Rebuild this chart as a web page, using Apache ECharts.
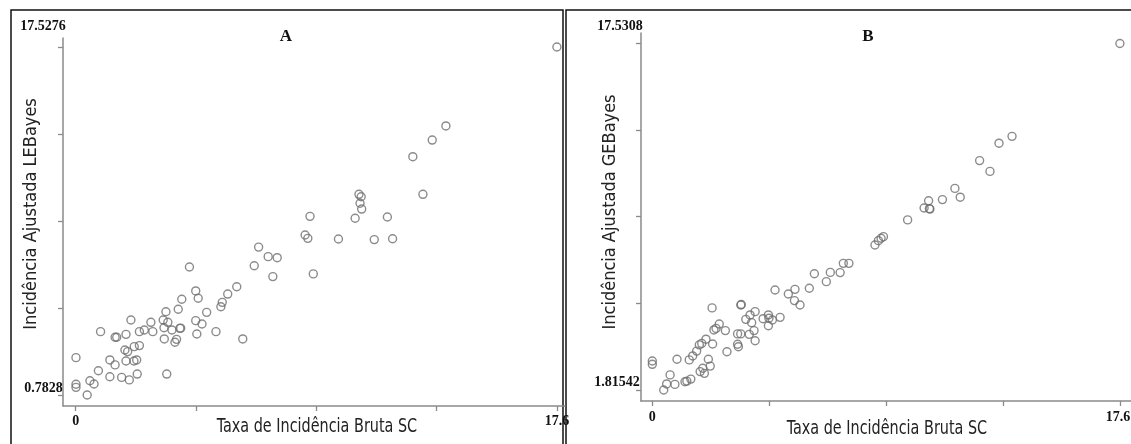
<!DOCTYPE html>
<html><head><meta charset="utf-8">
<script src="https://cdn.jsdelivr.net/npm/echarts@6/dist/echarts.min.js"></script>
<style>html,body{margin:0;padding:0;background:#fff}#c{width:1131px;height:444px}</style>
</head><body><div id="c"></div>
<script>
// Panel A: raw rate (x) vs LEBayes adjusted (y)
const aX = [0.01,0.01,0.01,0.42,0.52,0.67,0.83,0.91,1.25,1.25,1.44,1.44,1.50,1.68,1.84,1.80,1.90,1.84,1.96,2.02,2.13,2.14,2.23,2.25,2.33,2.33,2.51,2.75,2.82,3.20,3.23,3.24,3.30,3.37,3.33,3.52,3.63,3.69,3.75,3.81,3.84,3.88,4.39,4.48,4.39,4.43,4.62,4.79,5.13,5.31,5.36,5.56,5.89,6.11,7.21,4.16,6.53,6.69,7.04,7.37,12.33,12.70,10.36,10.44,10.40,10.46,10.22,11.40,8.57,8.39,8.49,9.61,10.92,11.59,8.69,17.6,13.54,13.04];
const aY = [2.58,1.30,1.15,0.7828,1.47,1.31,1.95,3.83,2.47,1.66,2.23,3.56,3.56,1.63,3.70,2.95,2.87,2.42,1.51,4.39,2.42,3.11,2.47,1.79,3.83,3.16,3.91,4.28,3.83,4.39,4.02,3.48,4.79,4.28,1.79,3.91,3.32,3.46,4.91,3.99,4.00,5.39,5.79,5.44,4.36,3.72,4.20,4.76,3.83,5.03,5.24,5.64,5.99,3.48,6.48,6.94,7.00,7.90,7.44,7.39,12.25,10.44,10.44,10.32,10.01,9.73,9.29,9.35,9.38,8.48,8.32,8.29,8.26,8.30,6.61,17.5276,13.73,13.05];
// Panel B: raw rate (x) vs GEBayes adjusted (y)
const bX = [0,0,0.43,0.54,0.67,0.85,0.93,1.23,1.30,1.45,1.39,1.52,1.67,1.77,1.86,1.80,1.90,1.96,2.02,2.11,2.18,2.25,2.27,2.32,2.40,2.52,2.75,2.81,3.21,3.21,3.24,3.33,3.33,3.35,3.52,3.68,3.65,3.74,3.83,3.87,3.87,4.17,4.37,4.39,4.37,4.52,4.81,4.62,5.12,5.37,5.35,5.56,5.91,6.55,6.10,6.70,7.07,7.19,7.40,8.38,8.51,8.61,8.70,9.61,10.23,10.40,10.43,10.45,10.92,11.39,11.59,12.32,12.71,13.54,13.05,17.6];
const bY = [3.13,2.98,1.81542,2.09,2.50,2.07,3.21,2.19,2.22,2.31,3.18,3.36,3.58,3.86,3.93,2.65,2.80,2.57,4.12,3.21,2.90,5.54,3.90,4.54,4.61,4.81,4.51,3.55,4.36,3.89,3.78,4.36,5.67,5.69,5.02,5.22,4.34,4.87,4.51,5.37,4.05,5.05,5.22,5.07,4.73,4.99,5.11,6.35,6.17,6.38,5.87,5.67,6.43,6.73,7.09,7.15,7.14,7.56,7.56,8.39,8.59,8.70,8.77,9.53,10.07,10.40,10.04,10.02,10.45,10.96,10.56,12.22,11.73,13.32,13.01,17.5308];

const xTicks = [0, 4.4, 8.8, 13.2, 17.6];
const xLabelVals = [0, 17.6];
const aYTicks = [0.7828, 4.9690, 9.1552, 13.3414, 17.5276];
const bYTicks = [1.81542, 5.74427, 9.67311, 13.60196, 17.5308];
const aYLabels = ['0.7828', '17.5276'];
const bYLabels = ['1.81542', '17.5308'];
const xLabels = ['0', '17.6'];
const titles = ['A', 'B'];
const xTitle = 'Taxa de Incidência Bruta SC';
const yTitles = ['Incidência Ajustada LEBayes', 'Incidência Ajustada GEBayes'];

const axisCol = '#8a8a8a';
const ptCol = '#6e6e6e';
const narrow = '"DejaVu Sans Condensed","Liberation Sans Narrow",sans-serif';
const serif = '"Liberation Serif","DejaVu Serif",serif';

function xAxis(grid, min, max) {
  return {type:'value', gridIndex:grid, min:min, max:max,
    axisLine:{show:true, onZero:false, lineStyle:{color:axisCol, width:1.5}},
    axisTick:{show:true, length:5, customValues:xTicks, lineStyle:{color:axisCol, width:1.3}},
    axisLabel:{show:false}, splitLine:{show:false}};
}
function yAxis(grid, min, max, ticks) {
  return {type:'value', gridIndex:grid, min:min, max:max,
    axisLine:{show:true, onZero:false, lineStyle:{color:axisCol, width:1.5}},
    axisTick:{show:true, length:5, customValues:ticks, lineStyle:{color:axisCol, width:1.3}},
    axisLabel:{show:false}, splitLine:{show:false}};
}
const pts = (xs, ys) => xs.map((v, i) => [v, ys[i]]);
const sym = {type:'scatter', symbol:'circle', symbolSize:8, silent:true,
  itemStyle:{color:'rgba(255,255,255,0)', borderColor:ptCol, borderWidth:1.4}};

const chart = echarts.init(document.getElementById('c'), null, {renderer:'canvas'});
chart.setOption({
  animation:false, backgroundColor:'#fff',
  grid:[{left:63, top:38, width:502, height:368},
        {left:641, top:33, width:490, height:368}],
  xAxis:[xAxis(0, -0.4645, 17.896), xAxis(1, -0.4253, 18.018)],
  yAxis:[yAxis(0, 0.2535, 17.961, aYTicks), yAxis(1, 1.3165, 18.007, bYTicks)],
  series:[Object.assign({}, sym, {xAxisIndex:0, yAxisIndex:0, data:pts(aX, aY)}),
          Object.assign({}, sym, {xAxisIndex:1, yAxisIndex:1, data:pts(bX, bY)})]
});

const g = [];
function txt(x, y, s, font, extra, tr) {
  g.push(Object.assign({type:'text', x:x, y:y, style:Object.assign({text:s, font:font, fill:'#111', align:'center', verticalAlign:'middle'}, extra||{})}, tr||{}));
}
const tickFont = 'bold 14px ' + serif;
// panel A labels
let p = chart.convertToPixel({gridIndex:0}, [0, aYTicks[4]]);
txt(43, p[1] - 21, aYLabels[1], tickFont);
p = chart.convertToPixel({gridIndex:0}, [0, aYTicks[0]]);
txt(43.5, p[1] - 7, aYLabels[0], tickFont);
p = chart.convertToPixel({gridIndex:0}, [xLabelVals[0], 0.7828]);
txt(p[0], 421, xLabels[0], tickFont);
p = chart.convertToPixel({gridIndex:0}, [xLabelVals[1], 0.7828]);
txt(p[0], 421, xLabels[1], tickFont);
// panel B labels
p = chart.convertToPixel({gridIndex:1}, [0, bYTicks[4]]);
txt(620, p[1] - 17, bYLabels[1], tickFont);
p = chart.convertToPixel({gridIndex:1}, [0, bYTicks[0]]);
txt(617, p[1] - 8, bYLabels[0], tickFont);
p = chart.convertToPixel({gridIndex:1}, [xLabelVals[0], 2]);
txt(p[0], 417, xLabels[0], tickFont);
p = chart.convertToPixel({gridIndex:1}, [xLabelVals[1], 2]);
txt(p[0] - 2, 417, xLabels[1], tickFont);
// titles
txt(286, 37, titles[0], 'bold 17px ' + serif);
txt(868, 37, titles[1], 'bold 17px ' + serif);
// axis titles
txt(317, 427, xTitle, '20px ' + narrow, {fill:'#222'}, {scaleX:0.8});
txt(887, 429, xTitle, '20px ' + narrow, {fill:'#222'}, {scaleX:0.8});
g.push({type:'text', x:31, y:214, rotation:Math.PI/2, style:{text:yTitles[0], font:'18px ' + narrow, fill:'#222', align:'center', verticalAlign:'middle'}});
g.push({type:'text', x:610, y:212, rotation:Math.PI/2, style:{text:yTitles[1], font:'18px ' + narrow, fill:'#222', align:'center', verticalAlign:'middle'}});
// frames
g.push({type:'polyline', shape:{points:[[11,444],[11,10],[563,10],[563,444]]}, style:{stroke:'#111', lineWidth:1.5, fill:null}});
g.push({type:'polyline', shape:{points:[[566,444],[566,10],[1131,10]]}, style:{stroke:'#111', lineWidth:1.5, fill:null}});
chart.setOption({graphic:g});
</script></body></html>
